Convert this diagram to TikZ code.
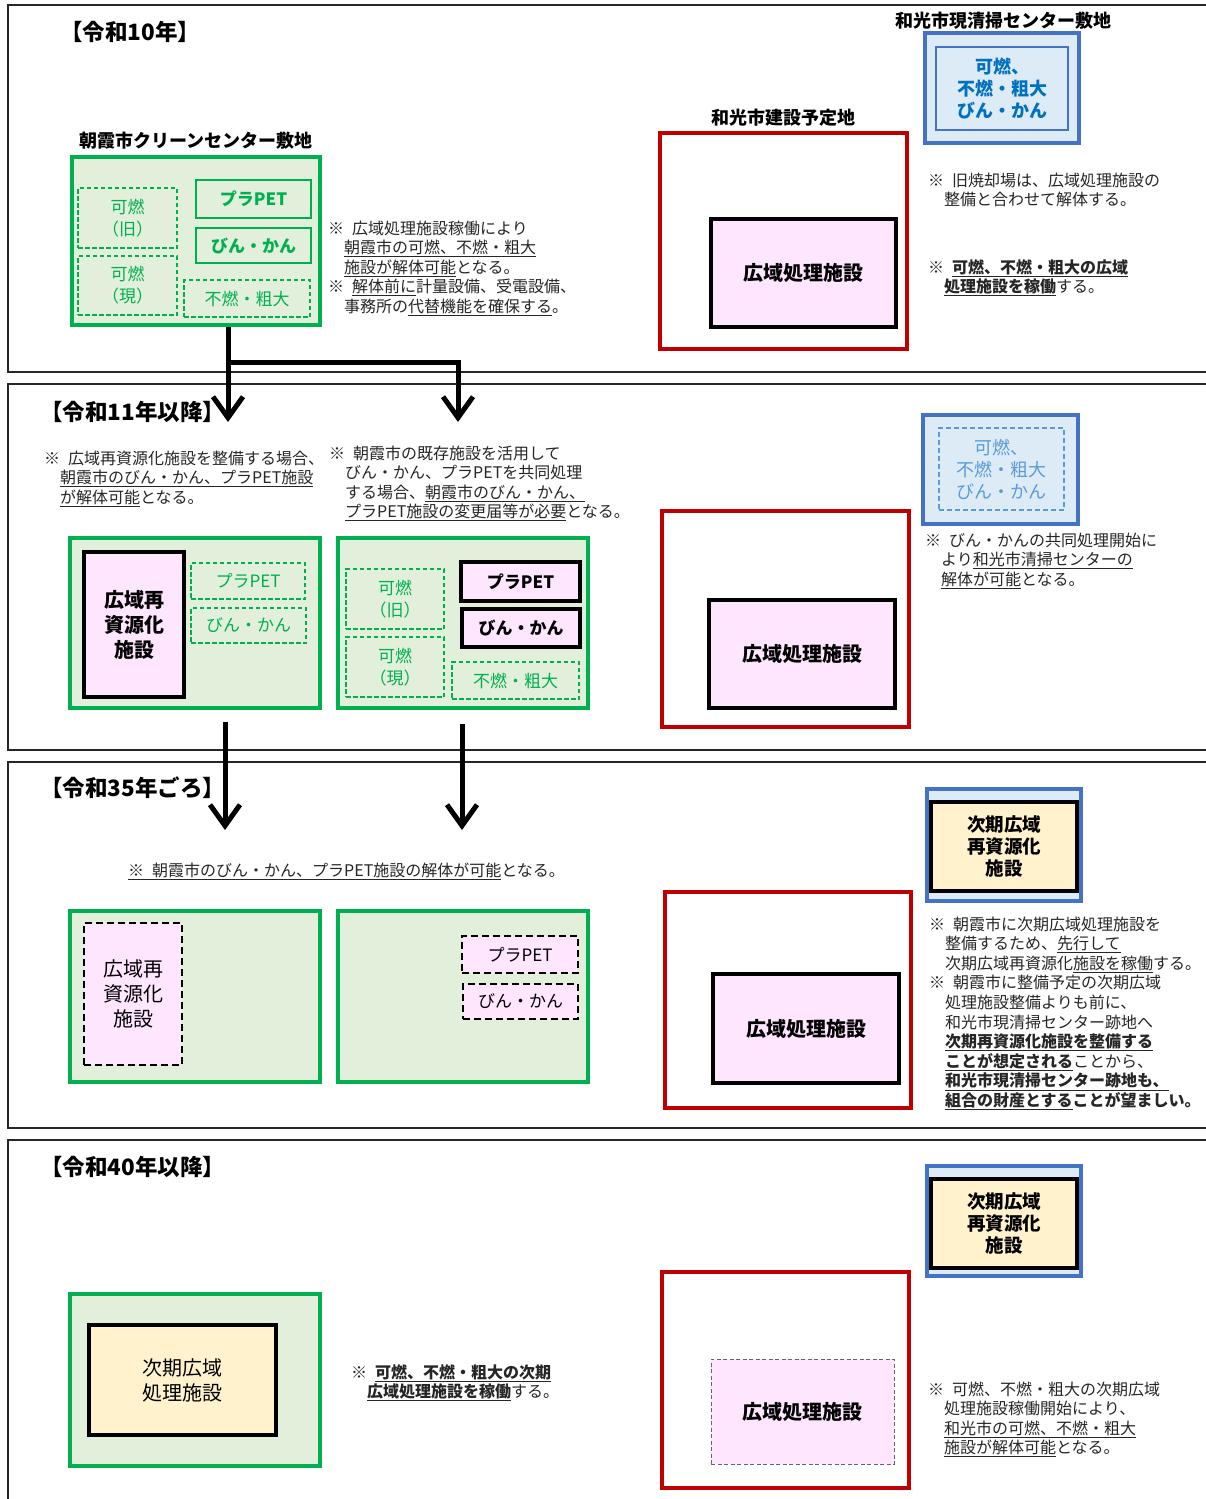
\documentclass[tikz,border=0pt]{standalone}
\usepackage{fontspec}
\setmainfont{Noto Sans CJK JP}
\usetikzlibrary{arrows.meta}
\definecolor{gline}{HTML}{00B050}
\definecolor{gfill}{HTML}{E2EFDA}
\definecolor{bline}{HTML}{4472C4}
\definecolor{bfill}{HTML}{DDEBF7}
\definecolor{btext}{HTML}{0070C0}
\definecolor{btextb}{HTML}{5B9BD5}
\definecolor{rline}{HTML}{C00000}
\definecolor{pfill}{HTML}{FFE6FF}
\definecolor{yfill}{HTML}{FFF2CC}
\definecolor{ntext}{HTML}{262626}
\newcommand\ul[1]{\underline{#1}}
\newcommand\kome{※\hspace{0.5em}}
\newcommand\ind{\hspace*{1em}}
\newcommand\notetext[1]{\parbox[t]{300pt}{#1}}
\newcommand\fnote{\fontsize{16}{19.6}\selectfont}
\newcommand\flbl{\fontsize{17}{22}\selectfont}
\newcommand\fbig{\fontsize{20}{25}\selectfont}
\newcommand\fsite{\fontsize{18}{22}\selectfont}
\newcommand\fmid{\fontsize{18.5}{22}\selectfont}
\newcommand\ftitle{\fontsize{22.5}{27}\selectfont}
\tikzset{
  secframe/.style={draw=black!85, line width=1.8pt},
  sz/.style 2 args={minimum width=#1pt, minimum height=#2pt},
  ttl/.style={anchor=west, inner sep=0pt, font=\ftitle\bfseries},
  sitelbl/.style={inner sep=0pt, font=\fsite\bfseries},
  notetxt/.style={anchor=base west, inner sep=0pt, font=\fnote, text=ntext},
  gbox/.style={draw=gline, fill=gfill, line width=3.5pt, inner sep=0pt},
  gdash/.style={draw=gline, line width=1.1pt, dash pattern=on 4.5pt off 2.5pt, text=gline, font=\flbl, align=center, inner sep=0pt},
  gsolid/.style={draw=gline, line width=2pt, text=gline, font=\flbl\bfseries, align=center, inner sep=0pt},
  kbox/.style={draw=black, fill=pfill, line width=4.5pt, align=center, inner sep=0pt},
  kdash/.style={draw=black, fill=pfill, line width=1.8pt, dash pattern=on 7pt off 4pt, align=center, inner sep=0pt},
  graydash/.style={draw=black!60, fill=pfill, line width=1pt, dash pattern=on 4pt off 2.5pt, align=center, inner sep=0pt},
  ybox/.style={draw=black, fill=yfill, line width=4.5pt, align=center, inner sep=0pt, font=\fmid\bfseries},
  bbox/.style={draw=bline, fill=bfill, line width=4.5pt, inner sep=0pt},
  bin/.style={draw=bline, line width=1.5pt, align=center, inner sep=0pt, text=btext, font=\fsite\bfseries},
  bdash/.style={draw=btextb, line width=1.3pt, dash pattern=on 5pt off 3pt, align=center, inner sep=0pt, text=btextb, font=\fsite},
  rbox/.style={draw=rline, line width=3.5pt, inner sep=0pt},
  flowarrow/.style={line width=5pt, -{Straight Barb[length=21pt,width=30pt]}}
}
\begin{document}
\begin{tikzpicture}[x=1pt,y=-1pt]
\path[use as bounding box, fill=white] (0,0) rectangle (1206,1499);
% section frames
\draw[secframe] (1206,5) -- (8,5) -- (8,372) -- (1206,372);
\draw[secframe] (1206,384) -- (8,384) -- (8,750) -- (1206,750);
\draw[secframe] (1206,762) -- (8,762) -- (8,1128) -- (1206,1128);
\draw[secframe] (1206,1140) -- (8,1140) -- (8,1499);

% ===== Section 1 =====
\node[ttl] (s1) at (60,32) {【令和10年】};
\node[sitelbl] (lA1) at (196,141) {朝霞市クリーンセンター敷地};
\node[gbox, sz={248}{168}] (g1) at (196,241) {};
\node[gdash, sz={99}{60}] (k1o) at (127.5,218) {可燃\\（旧）};
\node[gdash, sz={99}{59}] (k1c) at (127.5,285.5) {可燃\\（現）};
\node[gsolid, sz={115}{38}] (p1) at (253.5,199) {プラPET};
\node[gsolid, sz={115}{35}] (b1) at (253.5,245.5) {びん・かん};
\node[gdash, sz={126}{37}] (f1) at (247,298.5) {不燃・粗大};
\node[notetxt] (n1) at (328,234) {\notetext{\kome 広域処理施設稼働により\\
\ind\ul{朝霞市の可燃、不燃・粗大}\\
\ind\ul{施設が解体可能}となる。\\
\kome\ul{解体前に}計量設備、受電設備、\\
\ind 事務所の\ul{代替機能を確保する}。}};

\node[sitelbl] (lW1) at (1003,21) {和光市現清掃センター敷地};
\node[bbox, sz={154}{110}] (bo1) at (1002,88) {};
\node[bin, sz={132}{83}] (bi1) at (1002,88.5) {可燃、\\不燃・粗大\\びん・かん};
\node[sitelbl] (lW2) at (783,118) {和光市建設予定地};
\node[rbox, sz={247}{216}] (r1) at (783.5,241) {};
\node[kbox, sz={185}{108}, font=\fbig\bfseries] (w1) at (803.5,273) {広域処理施設};
\node[notetxt] (n2) at (928,186) {\notetext{\kome 旧焼却場は、広域処理施設の\\
\ind 整備と合わせて解体する。}};
\node[notetxt] (n3) at (928,273) {\notetext{\kome\ul{\textbf{可燃、不燃・粗大の広域}}\\
\ind\ul{\textbf{処理施設を稼働}}する。}};

\coordinate (t1) at (228,422);
\coordinate (t2) at (458,422);
\coordinate (j1) at (228,362);
\draw[flowarrow] (g1.south -| t1) -- (t1);
\draw[flowarrow] (j1) -| (t2);

% ===== Section 2 =====
\node[ttl] (s2) at (40,412) {【令和11年以降】};
\node[notetxt] (n4) at (44,464) {\notetext{\kome 広域再資源化施設を整備する場合、\\
\ind\ul{朝霞市のびん・かん、プラPET施設}\\
\ind\ul{が解体可能}となる。}};
\node[notetxt] (n5) at (329,459) {\notetext{\kome 朝霞市の既存施設を活用して\\
\ind びん・かん、プラPETを共同処理\\
\ind する場合、\ul{朝霞市のびん・かん、}\\
\ind\ul{プラPET施設の変更届等が必要}となる。}};
\node[gbox, sz={250}{170}] (g2L) at (195,623) {};
\node[kbox, sz={100}{145}, font=\fbig\bfseries] (kr2) at (134,624.5) {広域再\\資源化\\施設};
\node[gdash, sz={114}{36}] (p2L) at (248,581) {プラPET};
\node[gdash, sz={115}{35}] (b2L) at (248.5,625.5) {びん・かん};
\node[gbox, sz={250}{170}] (g2R) at (463,623) {};
\node[gdash, sz={98}{60}] (k2o) at (395,599) {可燃\\（旧）};
\node[gdash, sz={98}{60}] (k2c) at (395,667) {可燃\\（現）};
\node[kbox, sz={119}{39}, font=\flbl\bfseries] (p2R) at (520.5,581.5) {プラPET};
\node[kbox, sz={118}{38}, font=\flbl\bfseries] (b2R) at (521,628) {びん・かん};
\node[gdash, sz={127}{37}] (f2R) at (515.5,680.5) {不燃・粗大};

\node[bbox, sz={155}{109}] (bo2) at (1000.5,469.5) {};
\node[bdash, sz={125}{82}] (bi2) at (1001.5,469) {可燃、\\不燃・粗大\\びん・かん};
\node[notetxt] (n6) at (925,546) {\notetext{\kome びん・かんの共同処理開始に\\
\ind より\ul{和光市清掃センターの}\\
\ind\ul{解体が可能}となる。}};
\node[rbox, sz={247}{216}] (r2) at (785.5,619) {};
\node[kbox, sz={186}{108}, font=\fbig\bfseries] (w2) at (802,654) {広域処理施設};

\coordinate (t3) at (225,830);
\coordinate (t4) at (462,830);
\draw[flowarrow, shorten <=12pt] (g2L.south -| t3) -- (t3);
\draw[flowarrow, shorten <=14pt] (g2R.south -| t4) -- (t4);

% ===== Section 3 =====
\node[ttl] (s3) at (40,788) {【令和35年ごろ】};
\node[notetxt] (n7) at (128,876) {\ul{\kome 朝霞市のびん・かん、プラPET施設の解体が可能}となる。};
\node[gbox, sz={250}{171}] (g3L) at (195,996.5) {};
\node[kdash, sz={98}{142}, font=\fbig] (kr3) at (133,994) {広域再\\資源化\\施設};
\node[gbox, sz={250}{171}] (g3R) at (463,996.5) {};
\node[kdash, sz={116}{37}, font=\flbl] (p3) at (520,954.5) {プラPET};
\node[kdash, sz={115}{35}, font=\flbl] (b3) at (520.5,1001.5) {びん・かん};
\node[bbox, sz={154}{112}] (bo3) at (1004,845) {};
\node[ybox, sz={146}{89}] (y3) at (1004,846.5) {次期広域\\再資源化\\施設};
\node[rbox, sz={246}{216}] (r3) at (788,1000) {};
\node[kbox, sz={186}{109}, font=\fbig\bfseries] (w3) at (806,1028.5) {広域処理施設};
\node[notetxt] (n8) at (929,930) {\notetext{\kome 朝霞市に次期広域処理施設を\\
\ind 整備するため、\ul{先行して}\\
\ind 次期広域再資源化\ul{施設を稼働}する。\\
\kome 朝霞市に整備予定の次期広域\\
\ind 処理施設整備よりも前に、\\
\ind 和光市現清掃センター跡地へ\\
\ind\ul{\textbf{次期再資源化施設を整備する}}\\
\ind\ul{\textbf{ことが想定される}}ことから、\\
\ind\ul{\textbf{和光市現清掃センター跡地も、}}\\
\ind\ul{\textbf{組合の財産とする}}\textbf{ことが望ましい。}}};

% ===== Section 4 =====
\node[ttl] (s4) at (40,1167) {【令和40年以降】};
\node[gbox, sz={250}{172}] (g4) at (195,1380) {};
\node[ybox, sz={187}{110}, font=\fbig] (y4) at (182.5,1380) {次期広域\\処理施設};
\node[notetxt] (n9) at (351,1378) {\notetext{\kome\ul{\textbf{可燃、不燃・粗大の次期}}\\
\ind\ul{\textbf{広域処理施設を稼働}}する。}};
\node[bbox, sz={154}{110}] (bo4) at (1004,1221) {};
\node[ybox, sz={146}{89}] (y4b) at (1004,1223.5) {次期広域\\再資源化\\施設};
\node[rbox, sz={247}{216}] (r4) at (785.5,1380) {};
\node[graydash, sz={183}{105}, font=\fbig\bfseries] (w4) at (802.5,1411.5) {広域処理施設};
\node[notetxt] (n10) at (928,1395) {\notetext{\kome 可燃、不燃・粗大の次期広域\\
\ind 処理施設稼働開始により、\\
\ind\ul{和光市の可燃、不燃・粗大}\\
\ind\ul{施設が解体可能}となる。}};
\end{tikzpicture}
\end{document}
